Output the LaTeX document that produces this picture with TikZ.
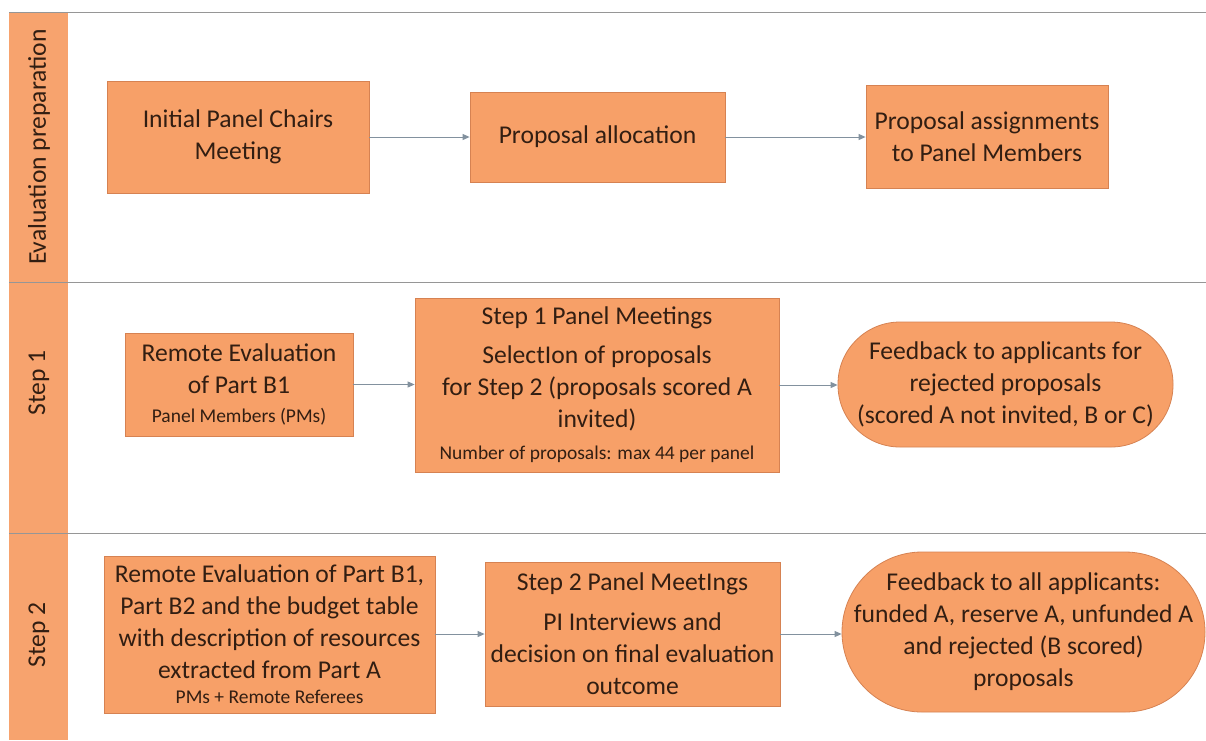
\documentclass[tikz,border=0pt]{standalone}
\usepackage{fontspec}
\setmainfont{Carlito}
\usetikzlibrary{arrows.meta}
\definecolor{boxfill}{RGB}{247,160,104}
\definecolor{boxedge}{RGB}{214,130,82}
\definecolor{lanefill}{RGB}{247,163,110}
\definecolor{laneline}{RGB}{150,150,150}
\definecolor{arrowc}{RGB}{130,145,158}
\definecolor{txt}{RGB}{50,30,18}
\newcommand{\smalltxt}{\fontsize{19.5}{22}\selectfont}
\begin{document}
\begin{tikzpicture}[x=1pt,y=-1pt,
  every node/.style={text=txt},
  procbox/.style={draw=boxedge,line width=0.8pt,fill=boxfill,align=center,inner sep=1pt,
    font=\fontsize{25.6}{32}\selectfont},
  termbox/.style={procbox},
  lanelabel/.style={rotate=90,font=\fontsize{25.6}{30}\selectfont},
  flow/.style={draw=arrowc,line width=0.9pt,-{Triangle[length=7pt,width=6pt]}}]
\useasboundingbox (0,0) rectangle (1206,740);
\fill[white] (0,0) rectangle (1206,740);
% lane band
\fill[lanefill] (9,12) rectangle (68,740);
\draw[laneline,line width=0.9pt] (9,12) -- (1206,12);
\draw[laneline,line width=0.9pt] (9,282) -- (1206,282);
\draw[laneline,line width=0.9pt] (9,533) -- (1206,533);
\node[lanelabel] (l1) at (39,147) {Evaluation preparation};
\node[lanelabel] (l2) at (39,383) {Step 1};
\node[lanelabel] (l3) at (39,635) {Step 2};
% row 1
\node[procbox,minimum width=262pt,minimum height=112pt] (a1) at (238,137) {Initial Panel Chairs\\Meeting};
\node[procbox,minimum width=255pt,minimum height=90pt] (a2) at (597.5,137) {Proposal allocation};
\node[procbox,minimum width=242pt,minimum height=103pt] (a3) at (987,136.5) {Proposal assignments\\to Panel Members};
% row 2
\node[procbox,minimum width=228pt,minimum height=103pt] (b1) at (239,384.5) {Remote Evaluation\\of Part B1\\[-3pt]{\smalltxt Panel Members (PMs)}};
\node[procbox,minimum width=364pt,minimum height=174pt] (b2) at (597,385) {Step 1 Panel Meetings\\[7pt]SelectIon of proposals\\for Step 2 (proposals scored A\\invited)\\[0pt]{\smalltxt Number of proposals: max 44 per panel}};
\node[termbox,minimum width=335pt,minimum height=125pt,rounded corners=62pt] (b3) at (1005.5,384.5) {Feedback to applicants for\\rejected proposals\\(scored A not invited, B or C)};
% row 3
\node[procbox,minimum width=331pt,minimum height=157pt] (c1) at (269.5,634.5) {Remote Evaluation of Part B1,\\Part B2 and the budget table\\with description of resources\\extracted from Part A\\[-7pt]{\smalltxt PMs + Remote Referees}};
\node[procbox,minimum width=295pt,minimum height=144pt] (c2) at (632.5,634) {Step 2 Panel MeetIngs\\[8pt]PI Interviews and\\decision on final evaluation\\outcome};
\node[termbox,minimum width=363pt,minimum height=160pt,rounded corners=80pt] (c3) at (1023.5,632) {Feedback to all applicants:\\funded A, reserve A, unfunded A\\and rejected (B scored)\\proposals};
% connectors
\draw[flow] (a1.east) -- (a2.west);
\draw[flow] (a2.east) -- (a3.west |- a2.east);
\draw[flow] (b1.east) -- (b2.west |- b1.east);
\draw[flow] (b2.east) -- (b3.west |- b2.east);
\draw[flow] (c1.east |- c2.west) -- (c2.west);
\draw[flow] (c2.east) -- (c3.west |- c2.east);
\end{tikzpicture}
\end{document}
